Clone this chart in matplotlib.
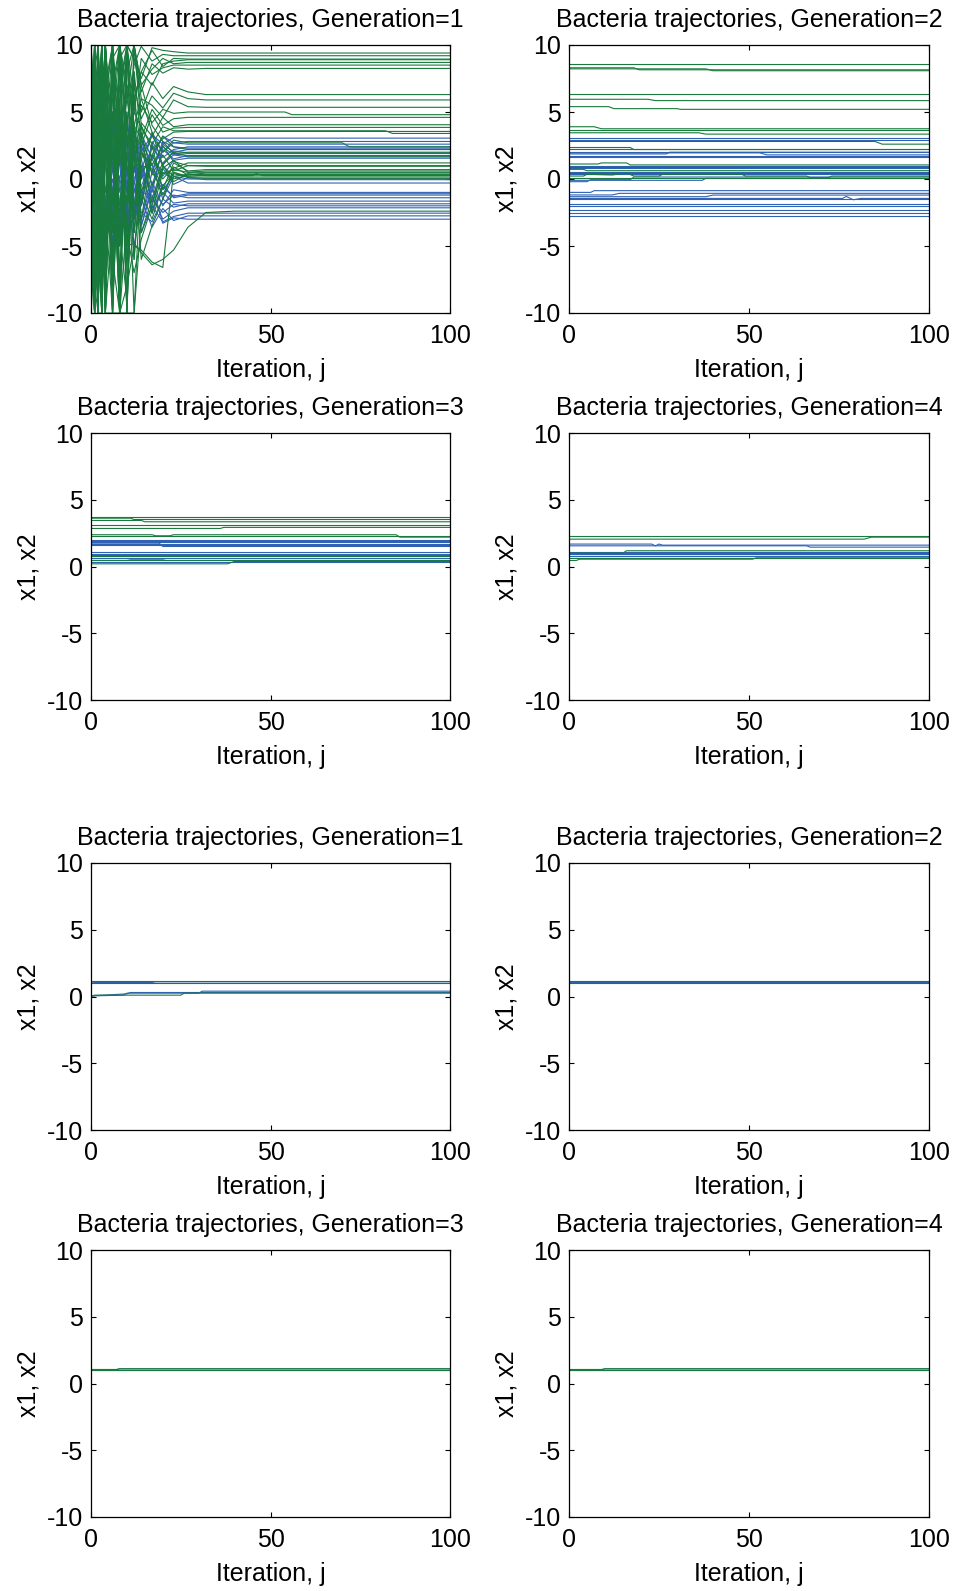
import matplotlib
matplotlib.use('Agg')
import matplotlib.pyplot as plt

plt.rcParams['font.family'] = ['Liberation Sans', 'DejaVu Sans']
plt.rcParams['font.size'] = 18
plt.rcParams['axes.unicode_minus'] = False

BLUE = '#3062b4'
GREEN = '#187a3c'

# run A, generation 1: positions sampled on a shared iteration grid
gen1a_iters = [0, 1, 2, 3, 4, 6, 8, 10, 12, 14, 17, 20, 23, 27, 32, 40]

gen1a_x1 = [
    [10, -2, 4, -5, 3, 1, 4.5, -1, 3.5, 2, 3.3, 2.6, 3.1, 3.05, 3.05, 3.05],
    [-6, 5, -3, 2, -4, 4, -2, 3, 0.5, 3.4, 1.5, 3.2, 2.7, 2.8, 2.8, 2.8],
    [3, -8, 6, -1, 5, -3, 2, -4, 1, -1.5, 2.8, 1.6, 2.2, 2.4, 2.4, 2.4],
    [-10, 4, -2, 5, -5, 2, 5, 0, -3, 2.5, 0.5, 2.6, 2.0, 2.2, 2.2, 2.2],
    [7, 2, -5, 3, 1, -4, 3, -3, 4, 0, 2.5, 1.0, 2.1, 1.95, 1.95, 1.95],
    [-2, -4, 8, -6, 4, 5, -1, 2, -2, 3, -0.5, 2.2, 1.5, 1.75, 1.75, 1.75],
    [5, 9, -3, 1, -2, 0, -5, 4, 2, -2, 1.8, 0.2, 1.4, 1.55, 1.55, 1.55],
    [-4, 1, 3, -7, 2, -2, 4, -3, 0, 1.5, -1.8, 0.8, -0.4, 0.1, -0.05, -0.05],
    [2, -7, -1, 4, -3, 3, -4, 1, -2.5, -0.5, 1.2, -1.5, 0.2, -0.3, -0.3, -0.3],
    [-7, 3, 5, -3, 4, -5, 0, -2, 3, -3, -0.2, -2.0, -0.8, -1.0, -1.0, -1.0],
    [0, -3, -6, 6, -1, 2, -3, 5, -1, 1, -2.6, -0.4, -1.4, -1.2, -1.2, -1.2],
    [9, -5, 2, -2, -6, 4, 1, -4, 2, -3.5, -0.8, -1.9, -1.2, -1.4, -1.4, -1.4],
    [-3, 6, -4, 3, 1, -1, -4, 2, -4, 0.5, -2.2, -1.0, -1.8, -1.65, -1.65, -1.65],
    [4, -1, 2, -8, 5, -5, 3, -1, 1, -2.5, -3.2, -1.5, -2.1, -1.85, -1.85, -1.85],
    [-8, 7, -2, 0, -4, 3, -2, 3, -3, -1, -1.2, -3.0, -2.4, -2.15, -2.15, -2.15],
    [1, -4, 4, 5, -2, -3, 5, -5, 0, -4, -2.0, -3.2, -2.8, -2.55, -2.55, -2.55],
    [-5, 2, -7, -4, 3, 1, -3, 0, -5, -1.5, -3.6, -2.2, -3.1, -2.75, -2.75, -2.75],
    [6, -9, 1, 3, -5, -2, 2, -4, -2, -3.5, -0.5, -3.3, -2.9, -3.0, -3.0, -3.0],
    [-1, 6, -5, -3, 2, 5, -4, 4, 1.5, 0.5, 3.5, 2.0, 2.7, 2.6, 2.6, 2.6],
    [3, -6, 0, 7, -3, -1, 2, -5, 3.5, 1, -1.0, 2.4, 1.8, 1.9, 1.9, 1.9],
    [-10, 10, -3, 2, 6, -3, 3, 1, -4, 2, 0.5, -0.8, 0.2, 0.0, 0.0, 0.0],
    [8, -10, 5, -4, -2, 4, -3, 4, 2, -1.5, 2.6, 1.1, 1.8, 1.65, 1.65, 1.65],
    [-9, 4, 7, 2, -5, 1, -5, -2, 4, 3, 1.0, -0.6, -1.3, -1.1, -1.1, -1.1],
    [10, 1, -8, 6, 3, -1, 4, -3, -1, 1, -1.5, -2.5, -1.9, -2.0, -2.0, -2.0],
    [-3, -10, 3, -2, 4, 2, 0, 3, -2, -3, 0.5, 2.8, 2.4, 2.3, 2.3, 2.3],
]

gen1a_x2 = [
    [-10, 8, 10, -3, 6, 10, 2, 10, 9, 7.5, 9.8, 9.6, 9.5, 9.4, 9.4, 9.4],
    [10, -6, 3, 10, -8, 7, 10, 4, 8.5, 9.9, 8.8, 9.3, 9.2, 9.2, 9.2, 9.2],
    [4, 10, -10, 6, 10, -2, 9, 10, 6, 8, 9.6, 8.4, 9.0, 8.95, 8.95, 8.95],
    [-7, 2, 10, 10, 3, 10, -5, 8, 10, 7, 8.2, 9.0, 8.6, 8.7, 8.7, 8.7],
    [10, 10, -4, -10, 8, 4, 10, 7, 5, 9, 7.8, 8.3, 8.5, 8.5, 8.5, 8.5],
    [2, -10, 7, 10, 10, -6, 6, 10, 9, 6.5, 8.6, 7.9, 8.3, 8.2, 8.25, 8.25],
    [10, 5, -10, 8, -3, 10, 1, 6, 10, 5, 7.2, 6.0, 6.9, 6.5, 6.3, 6.3],
    [-3, 10, 6, -10, 10, 3, 8, -2, 7, 4.5, 6.2, 5.3, 6.4, 6.0, 5.9, 5.9],
    [8, -8, 10, 2, -10, 9, 10, 3, 4, 6, 5.5, 4.6, 5.9, 5.4, 5.35, 5.35],
    [-10, 6, 2, 10, 5, -7, 10, 6, 3, 5.5, 4.2, 5.2, 4.9, 5.0, 5.0, 5.0],
    [6, -10, -2, 10, -6, 10, 4, -4, 8, 3, 5.2, 4.0, 4.5, 4.6, 4.6, 4.6],
    [10, 3, 10, -7, 2, 8, -10, 10, 2, 4.2, 3.2, 4.6, 3.9, 4.05, 4.05, 4.05],
    [-5, 10, -8, 4, 10, -4, 7, 10, -3, 2.5, 4.8, 3.5, 3.8, 3.85, 3.85, 3.85],
    [10, -2, 5, -10, 7, 10, -8, 2, 5, 3.8, 2.6, 3.9, 3.6, 3.6, 3.6, 3.6],
    [3, 10, -10, 10, -5, 6, 10, -6, 1, 4, 2.2, 3.0, 3.5, 3.55, 3.55, 3.55],
    [-10, 4, 8, -5, 10, -10, 3, 7, -2, 1.5, 3.2, 2.0, 2.9, 2.7, 2.7, 2.7],
    [7, -10, 10, -2, -9, 5, -3, 10, 4, -1, 1.8, 3.2, 2.4, 2.2, 2.2, 2.2],
    [-8, 10, 1, 10, 4, -10, 9, -7, 6, 2.2, -0.5, 1.2, 2.0, 1.7, 1.7, 1.7],
    [10, -4, -10, 5, 10, 2, -10, 5, -4, 3.5, 0.3, 1.8, 0.6, 1.0, 0.95, 0.95],
    [-2, 10, -6, -10, 6, 10, -4, -9, 3, -2, 2.5, -0.8, 1.2, 0.6, 0.7, 0.7],
    [10, -10, 4, 7, -10, -3, 10, 1, -6, 0.5, 1.5, 0.0, 0.9, 0.3, 0.45, 0.45],
    [-10, 3, -10, 10, 2, -8, 5, -10, 8, -4, -1.5, 1.0, -0.2, 0.4, 0.25, 0.25],
    [5, -10, 10, -4, -10, 8, -7, 4, -10, 1, 0.8, -1.2, 0.5, 0.1, 0.05, 0.05],
    [-10, -6, 10, -10, -2, -10, 4, -5, -4.8, -5.5, -6.4, -6.0, -5.3, -3.6, -2.5, -2.4],
    [8, -10, -3, -10, 10, -6, -10, -8, -5, -5.3, -6.2, -6.6, 0.5, 0.2, 0.3, 0.3],
    [-10, 10, -8, 2, -10, -10, 6, -4, -7, -4.5, -2, 0.8, 1.4, 0.5, 0.6, 0.6],
    [10, -8, -10, 10, -7, 3, -10, 10, 2, -6, -3.5, -1.5, 0.8, 1.2, 1.2, 1.2],
    [-4, -10, 10, 3, -10, 10, -10, -3, 10, 6, 3.5, 1.0, 0.2, 0.35, 0.35, 0.35],
    [10, -10, 10, -10, 8, -4, 10, -10, 6, 8, 7.0, 8.6, 8.8, 8.9, 8.9, 8.9],
    [-10, 10, -10, 10, -10, 10, -10, 10, -6, 2, 1.0, 2.5, 1.3, 1.0, 1.0, 1.0],
    [10, 6, -10, -10, 10, -10, 10, -10, 10, 4, -2.5, 0.5, 0.0, 0.3, 0.3, 0.3],
    [-6, -10, 10, 10, -10, 10, 10, -10, -10, -3, 1.8, 0.4, 0.7, 0.5, 0.5, 0.5],
    [10, -10, -6, 10, 10, -10, -10, 10, 10, 7, 4.0, 2.8, 1.9, 2.0, 2.0, 2.0],
    [-10, 10, 10, -10, 10, 2, -10, -10, 4, -1, -3.0, -0.5, 0.4, 0.15, 0.15, 0.15],
]

# late small moves of a few run A generation 1 bacteria: row -> (j, x2)
gen1a_x2_late = {
    9: [(54, 5.0), (56, 4.8)],
    13: [(82, 3.6), (84, 3.4)],
    15: [(70, 2.7), (72, 2.4)],
    21: [(45, 0.25), (46, 0.4), (48, 0.25)],
}

# remaining panels: each bacterium is a list of (iteration, value) breakpoints
gen2a_x1 = [
    [(0, 3.05)], [(0, 2.9)], [(0, 2.05)], [(0, 1.95), (53, 1.95), (55, 1.8)],
    [(0, 1.87), (27, 1.87), (28, 2.0)], [(0, 1.75)], [(0, 1.65)],
    [(0, 0.99)], [(0, 0.8)], [(0, 0.55)], [(0, 0.37)],
    [(0, -0.2), (5, -0.2), (6, -0.05), (17, -0.05), (18, 0.15)],
    [(0, -0.1), (37, -0.1), (38, 0.05)],
    [(0, -1.0), (6, -1.0), (7, -0.87)],
    [(0, -1.19), (12, -1.19), (14, -1.07)],
    [(0, -1.32), (38, -1.32), (40, -1.2)],
    [(0, -1.45), (76, -1.45), (77, -1.3), (79, -1.55), (81, -1.45)],
    [(0, -1.52)], [(0, -1.87)], [(0, -2.05)], [(0, -2.31)], [(0, -2.51)], [(0, -2.74)],
]
gen2a_x2 = [
    [(0, 8.55)],
    [(0, 8.3), (18, 8.3), (19.5, 8.15)],
    [(0, 8.22), (38, 8.22), (40, 8.08)],
    [(0, 6.35)],
    [(0, 5.95), (22, 5.95), (24, 5.85)],
    [(0, 5.4), (11, 5.4), (12.5, 5.25), (30, 5.25), (31, 5.2)],
    [(0, 3.9), (7, 3.9), (9, 3.75)],
    [(0, 3.65)],
    [(0, 3.45), (36, 3.45), (38, 3.35)],
    [(0, 2.8), (85, 2.8), (87, 2.6)],
    [(0, 2.35), (17, 2.35), (18, 2.2)],
    [(0, 2.22)],
    [(0, 1.12), (8, 1.12), (9, 1.2), (16, 1.2), (17, 1.05)],
    [(0, 0.92)],
    [(0, 0.72), (4, 0.72), (5, 0.62)],
    [(0, 0.47)],
    [(0, 0.22), (4, 0.22), (5, 0.35), (12, 0.3), (16, 0.45), (18, 0.22), (25, 0.22),
     (26, 0.35), (48, 0.35), (49, 0.22), (66, 0.22), (67, 0.1), (72, 0.1), (73, 0.22)],
    [(0, 0.05)],
]

gen3a_x1 = [
    [(0, 2.0)], [(0, 1.9)], [(0, 1.8)], [(0, 1.7)], [(0, 1.6)],
    [(0, 1.75), (19, 1.75), (20, 1.5)],
    [(0, 1.05)], [(0, 0.95)], [(0, 0.85)], [(0, 0.75)],
    [(0, 0.62)], [(0, 0.45), (10, 0.45), (11, 0.5), (20, 0.5), (21, 0.45)], [(0, 0.3)],
]
gen3a_x2 = [
    [(0, 3.68)],
    [(0, 3.62), (11, 3.62), (12, 3.52)],
    [(0, 3.45), (14, 3.45), (15, 3.35)],
    [(0, 3.12)],
    [(0, 2.85), (36, 2.85), (37, 2.93)],
    [(0, 2.38), (17, 2.38), (18, 2.3), (22, 2.3), (23, 2.38), (85, 2.38), (86, 2.2)],
    [(0, 2.25)],
    [(0, 0.75)],
    [(0, 0.5)],
    [(0, 0.2), (38, 0.2), (40, 0.38)],
]

gen4a_x1 = [
    [(0, 1.68), (23, 1.68), (24, 1.55), (25, 1.68), (26, 1.6)],
    [(0, 1.55), (66, 1.55), (67, 1.45)],
    [(0, 1.05)], [(0, 0.98)], [(0, 0.9)], [(0, 0.82)], [(0, 0.76)],
]
gen4a_x2 = [
    [(0, 2.25)],
    [(0, 2.05), (82, 2.05), (84, 2.2)],
    [(0, 1.0), (15, 1.0), (16, 1.18)],
    [(0, 0.62)],
    [(0, 0.45), (2, 0.45), (3, 0.55), (51, 0.55), (52, 0.65)],
]

# run B
gen1b_x1 = [
    [(0, 1.0), (1, 1.05), (17, 1.05), (18, 1.1)],
    [(0, 0.0), (1, 0.05), (9, 0.1), (10, 0.25), (30, 0.25), (31, 0.4)],
    [(0, 0.05), (10, 0.2), (11, 0.3)],
]
gen1b_x2 = [
    [(0, 1.18)],
    [(0, 1.0)],
    [(0, 0.0), (1, 0.1), (25, 0.1), (26, 0.25)],
]

gen2b_x1 = [[(0, 1.05)]]
gen2b_x2 = [[(0, 1.15)], [(0, 1.0)]]

gen3b_x1 = [[(0, 1.0)], [(0, 1.02), (7, 1.02), (8, 1.1)]]
gen3b_x2 = [[(0, 1.0)], [(0, 1.05), (7, 1.05), (8, 1.1)]]

gen4b_x1 = [[(0, 1.0)], [(0, 1.02), (9, 1.02), (10, 1.1)]]
gen4b_x2 = [[(0, 1.0)], [(0, 1.05), (9, 1.05), (10, 1.1)]]


def gridded(iters, rows, late=None):
    late = late or {}
    return [list(zip(iters, r)) + late.get(i, []) for i, r in enumerate(rows)]


def track(points):
    js = [p[0] for p in points] + [100]
    ys = [p[1] for p in points] + [points[-1][1]]
    return js, ys


def draw(ax, x1, x2, gen):
    # all x1 first, x2 drawn over them
    for a in x1:
        ax.plot(*track(a), color=BLUE, lw=0.8)
    for b in x2:
        ax.plot(*track(b), color=GREEN, lw=0.8)
    ax.set_xlim(0, 100)
    ax.set_ylim(-10, 10)
    ax.set_xticks([0, 50, 100])
    ax.set_yticks([-10, -5, 0, 5, 10])
    ax.tick_params(direction='in', top=True, right=True, length=3.5, width=0.8,
                   labelsize=18)
    ax.tick_params(axis='x', pad=8)
    ax.tick_params(axis='y', pad=6)
    for s in ax.spines.values():
        s.set_linewidth(0.9)
        s.set_color('black')
    ax.set_title('Bacteria trajectories, Generation=%d' % gen, fontsize=18, pad=13)
    ax.set_xlabel('Iteration, j', fontsize=18, labelpad=7)
    ax.set_ylabel('x1, x2', fontsize=18, labelpad=4)


W, H = 957, 1591
fig = plt.figure(figsize=(W / 100, H / 100), dpi=100)

cols = [(91, 450), (569, 929)]
rows = [(45, 313), (433, 700), (863, 1130), (1250, 1517)]

panels = [
    (gridded(gen1a_iters, gen1a_x1), gridded(gen1a_iters, gen1a_x2, gen1a_x2_late), 1),
    (gen2a_x1, gen2a_x2, 2),
    (gen3a_x1, gen3a_x2, 3),
    (gen4a_x1, gen4a_x2, 4),
    (gen1b_x1, gen1b_x2, 1),
    (gen2b_x1, gen2b_x2, 2),
    (gen3b_x1, gen3b_x2, 3),
    (gen4b_x1, gen4b_x2, 4),
]

for k, (x1, x2, gen) in enumerate(panels):
    l, r = cols[k % 2]
    t, b = rows[k // 2]
    ax = fig.add_axes([l / W, 1 - b / H, (r - l) / W, (b - t) / H])
    draw(ax, x1, x2, gen)

fig.savefig('out.png', dpi=100)
